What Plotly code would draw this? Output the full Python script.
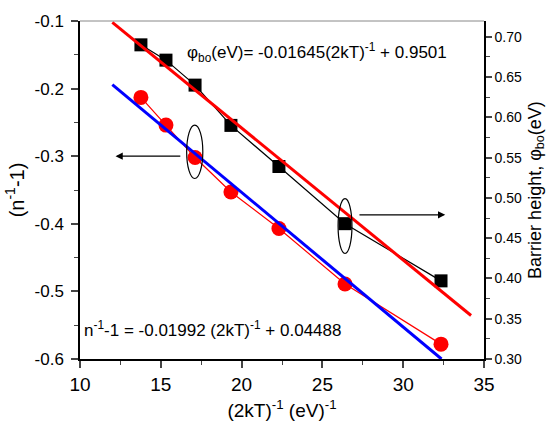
import plotly.graph_objects as go

# Data
x_vals = [13.77, 15.32, 17.12, 19.34, 22.31, 26.40, 32.34]
n_vals = [-0.213, -0.254, -0.302, -0.353, -0.407, -0.489, -0.578]        # (n^-1 - 1), left axis
phi_vals = [0.690, 0.671, 0.640, 0.590, 0.539, 0.468, 0.397]            # barrier height, right axis

# Fit lines (end points)
fit_n_x = [12.0, 32.37]
fit_n_y = [-0.194, -0.600]
fit_phi_x = [12.0, 34.2]
fit_phi_y = [0.718, 0.354]

FONT = "Liberation Sans, Arial, sans-serif"

fig = go.Figure()

# circles with thin red connecting line
fig.add_trace(go.Scatter(x=x_vals, y=n_vals, mode="lines+markers",
                         line=dict(color="red", width=1.2),
                         marker=dict(symbol="circle", size=15, color="red"),
                         showlegend=False, yaxis="y"))
fig.add_trace(go.Scatter(x=fit_n_x, y=fit_n_y, mode="lines",
                         line=dict(color="blue", width=3), showlegend=False, yaxis="y"))

# squares with thin black connecting line
fig.add_trace(go.Scatter(x=x_vals, y=phi_vals, mode="lines+markers",
                         line=dict(color="black", width=1.2),
                         marker=dict(symbol="square", size=13, color="black"),
                         showlegend=False, yaxis="y2"))
fig.add_trace(go.Scatter(x=fit_phi_x, y=fit_phi_y, mode="lines",
                         line=dict(color="red", width=3), showlegend=False, yaxis="y2"))

fig.update_layout(
    width=554, height=430,
    margin=dict(l=80, r=70, t=17, b=71),
    paper_bgcolor="white", plot_bgcolor="white",
    font=dict(family=FONT, color="black", size=15),
    xaxis=dict(range=[10, 35], tickvals=[10, 15, 20, 25, 30, 35],
               ticks="outside", ticklen=7, tickwidth=1.5, showgrid=False, zeroline=False,
               showline=True, linecolor="black", linewidth=1.5,
               minor=dict(ticks="outside", ticklen=4, tickwidth=1.2, dtick=2.5, tick0=10),
               tickfont=dict(size=19),
               title=dict(text="(2kT)<sup>-1</sup> (eV)<sup>-1</sup>", font=dict(size=19), standoff=10)),
    yaxis=dict(range=[-0.6, -0.1], tickvals=[-0.6, -0.5, -0.4, -0.3, -0.2, -0.1],
               ticktext=["-0.6", "-0.5", "-0.4", "-0.3", "-0.2", "-0.1"],
               ticks="outside", ticklen=7, tickwidth=1.5, showgrid=False, zeroline=False,
               showline=True, linecolor="black", linewidth=1.5,
               ticklabelstandoff=4,
               minor=dict(ticks="outside", ticklen=4, tickwidth=1.2, dtick=0.05, tick0=-0.6),
               tickfont=dict(size=17),
               title=dict(text="(n<sup>-1</sup>-1)", font=dict(size=20), standoff=5)),
    yaxis2=dict(range=[0.30, 0.7196], overlaying="y", side="right",
                tickvals=[0.30, 0.35, 0.40, 0.45, 0.50, 0.55, 0.60, 0.65, 0.70],
                tickformat=".2f",
                ticks="outside", ticklen=6, tickwidth=1.5, showgrid=False, zeroline=False,
                showline=True, linecolor="black", linewidth=1.5,
                minor=dict(ticks="outside", ticklen=4, tickwidth=1.2, dtick=0.025, tick0=0.3),
                tickfont=dict(size=14),
                title=dict(text="Barrier height, \u03c6<sub>bo</sub>(eV)", font=dict(size=18), standoff=7)),
    shapes=[
        dict(type="line", xref="paper", yref="paper", x0=0, x1=1, y0=1, y1=1,
             line=dict(color="#888888", width=1)),
        dict(type="circle", xref="x", yref="y", x0=16.6, x1=17.6, y0=-0.333, y1=-0.254,
             line=dict(color="black", width=1.2)),
        dict(type="circle", xref="x", yref="y2", x0=25.97, x1=26.83, y0=0.431, y1=0.499,
             line=dict(color="black", width=1.2)),
    ],
    annotations=[
        dict(x=12.2, y=-0.3, xref="x", yref="y", ax=16.3, ay=-0.3, axref="x", ayref="y",
             text="", showarrow=True, arrowhead=2, arrowsize=1.2, arrowwidth=1.2, arrowcolor="black"),
        dict(x=32.6, y=0.479, xref="x", yref="y2", ax=27.2, ay=0.479, axref="x", ayref="y2",
             text="", showarrow=True, arrowhead=2, arrowsize=1.2, arrowwidth=1.2, arrowcolor="black"),
        dict(x=16.5, y=0.681, xref="x", yref="y2", xanchor="left", yanchor="middle",
             text="\u03c6<sub>bo</sub>(eV)= -0.01645(2kT)<sup>-1</sup> + 0.9501",
             showarrow=False, font=dict(size=17)),
        dict(x=10.15, y=-0.556, xref="x", yref="y", xanchor="left", yanchor="middle",
             text="n<sup>-1</sup>-1 = -0.01992 (2kT)<sup>-1</sup> + 0.04488",
             showarrow=False, font=dict(size=17)),
    ],
)

fig.write_html("out.html")
